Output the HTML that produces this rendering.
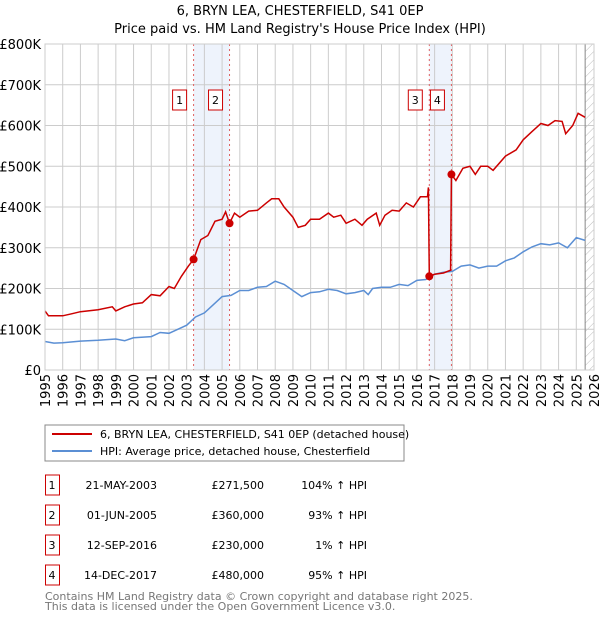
<!DOCTYPE html>
<html><head><meta charset="utf-8"><style>
body{margin:0;background:#fff;font-family:"DejaVu Sans","Liberation Sans",sans-serif;}
svg text{font-family:"DejaVu Sans","Liberation Sans",sans-serif;}
</style></head><body>
<svg id="c" width="600" height="620" viewBox="0 0 600 620" xmlns="http://www.w3.org/2000/svg">
<text x="300" y="15" text-anchor="middle" font-size="13">6, BRYN LEA, CHESTERFIELD, S41 0EP</text>
<text x="300" y="33" text-anchor="middle" font-size="13">Price paid vs. HM Land Registry's House Price Index (HPI)</text>
<g id="plot"></g>
<g>
<rect x="45" y="425" width="359" height="36" fill="#fff" stroke="#888"/>
<line x1="52" y1="434" x2="92" y2="434" stroke="#cc0000" stroke-width="2"/>
<text x="100" y="438" font-size="11">6, BRYN LEA, CHESTERFIELD, S41 0EP (detached house)</text>
<line x1="52" y1="451" x2="92" y2="451" stroke="#5b8fd4" stroke-width="2"/>
<text x="100" y="455" font-size="11">HPI: Average price, detached house, Chesterfield</text>
</g>
<g id="table" font-size="11"></g>
<text x="45" y="600" font-size="11" fill="#777">Contains HM Land Registry data © Crown copyright and database right 2025.</text>
<text x="45" y="610" font-size="11" fill="#777">This data is licensed under the Open Government Licence v3.0.</text>
</svg>
<script>
const yTicks=[0,100,200,300,400,500,600,700,800];
const yTickLabels=["£0","£100K","£200K","£300K","£400K","£500K","£600K","£700K","£800K"];
const xYears=[1995,1996,1997,1998,1999,2000,2001,2002,2003,2004,2005,2006,2007,2008,2009,2010,2011,2012,2013,2014,2015,2016,2017,2018,2019,2020,2021,2022,2023,2024,2025,2026];
const hpiT=[1995,1995.5,1996,1997,1998,1999,1999.5,2000,2001,2001.5,2002,2002.5,2003,2003.5,2004,2004.5,2005,2005.5,2006,2006.5,2007,2007.5,2008,2008.5,2009,2009.5,2010,2010.5,2011,2011.5,2012,2012.5,2013,2013.25,2013.5,2014,2014.5,2015,2015.5,2016,2016.5,2016.7,2017,2017.5,2018,2018.5,2019,2019.5,2020,2020.5,2021,2021.5,2022,2022.5,2023,2023.5,2024,2024.5,2025,2025.5];
const hpiV=[70,66,67,71,73,76,72,79,82,92,90,100,110,130,140,160,180,183,195,195,203,205,218,210,195,180,190,192,198,195,187,190,195,185,200,203,203,210,207,220,222,227,235,240,242,255,258,250,255,255,268,275,290,302,310,307,312,300,325,318];
const propT=[1995,1995.2,1996,1996.5,1997,1998,1998.8,1999,1999.5,2000,2000.5,2001,2001.5,2002,2002.3,2002.7,2003.1,2003.39,2003.8,2004.2,2004.6,2005,2005.2,2005.42,2005.7,2006,2006.5,2007,2007.5,2007.8,2008.2,2008.5,2009,2009.3,2009.7,2010,2010.5,2011,2011.3,2011.7,2012,2012.5,2012.9,2013.2,2013.7,2013.9,2014.2,2014.6,2015,2015.4,2015.8,2016.2,2016.6,2016.65,2016.7,2017,2017.5,2017.9,2017.95,2018.2,2018.6,2019,2019.3,2019.6,2020,2020.3,2021,2021.6,2022,2022.5,2023,2023.4,2023.8,2024.2,2024.4,2024.8,2025.1,2025.5];
const propV=[145,133,133,138,143,148,155,145,155,162,165,185,182,205,200,230,255,271.5,320,330,365,370,388,360,385,375,390,392,410,420,420,400,375,350,355,370,370,385,375,380,360,370,355,370,385,355,380,392,390,410,400,425,425,448,230,235,238,245,480,465,495,500,480,500,500,490,525,540,565,585,605,600,612,610,580,600,630,620];
const saleLabels=["1","2","3","4"];
const saleT=[2003.39,2005.42,2016.70,2017.95];
const saleV=[271.5,360,230,480];
const saleDates=["21-MAY-2003","01-JUN-2005","12-SEP-2016","14-DEC-2017"];
const salePrices=["£271,500","£360,000","£230,000","£480,000"];
const saleHpi=["104% ↑ HPI","93% ↑ HPI","1% ↑ HPI","95% ↑ HPI"];
const X0=45,X1=594,Y0=370,Y1=44;
const xs=t=>X0+(t-1995)/(2026-1995)*(X1-X0);
const ys=v=>Y0-v/800*(Y0-Y1);
const NS="http://www.w3.org/2000/svg";
const plot=document.getElementById('plot');
function mk(tag,attrs,parent){const e=document.createElementNS(NS,tag);for(const k in attrs)e.setAttribute(k,attrs[k]);(parent||plot).appendChild(e);return e;}
// shading
for(const [a,b] of [[0,1],[2,3]]){
 const r=mk('rect',{x:xs(saleT[a]),y:Y1,width:xs(saleT[b])-xs(saleT[a]),height:Y0-Y1,fill:'#eef3fc'});
 
 
}
// hatched future
const df=mk('defs',{});
const pat=mk('pattern',{id:'h',width:6,height:6,patternUnits:'userSpaceOnUse',patternTransform:'rotate(45)'},df);
mk('line',{x1:0,y1:0,x2:0,y2:6,stroke:'#bbb','stroke-width':1},pat);
const hr=mk('rect',{x:xs(2025.5),y:Y1,width:X1-xs(2025.5),height:Y0-Y1,fill:'url(#h)'});


// grid
yTicks.forEach((v,i)=>{
 mk('line',{x1:X0,x2:X1,y1:ys(v),y2:ys(v),stroke:'#ccc'});
 const t=mk('text',{x:X0-4,y:ys(v)+5,'text-anchor':'end','font-size':13});
 t.textContent=yTickLabels[i];
 
 
});
xYears.forEach(y=>{
 mk('line',{x1:xs(y),x2:xs(y),y1:Y1,y2:Y0,stroke:'#ccc'});
 const t=mk('text',{x:0,y:0,'text-anchor':'end','font-size':13,transform:`translate(${xs(y)+5},${Y0+4}) rotate(-90)`});
 t.textContent=y;
 
 
});
mk('line',{x1:xs(2025.5),x2:xs(2025.5),y1:Y1,y2:Y0,stroke:'#888'});
// sale lines
saleT.forEach((t,i)=>{
 const l=mk('line',{x1:xs(t),x2:xs(t),y1:Y1,y2:Y0,stroke:'#e06060','stroke-dasharray':'2,3'});
 
 
});
const path=(T,V)=>T.map((t,i)=>(i?'L':'M')+xs(t).toFixed(1)+','+ys(V[i]).toFixed(1)).join('');
const hp=mk('path',{d:path(hpiT,hpiV),fill:'none',stroke:'#5b8fd4','stroke-width':1.5});


const pp=mk('path',{d:path(propT,propV),fill:'none',stroke:'#cc0000','stroke-width':1.5});


saleT.forEach((t,i)=>{
 const c=mk('circle',{cx:xs(t),cy:ys(saleV[i]),r:4,fill:'#cc0000'});
 
 
 const g=mk('rect',{x:xs(t)-21,y:90,width:14,height:20,fill:'#fff',stroke:'#cc0000'});
 
 
 const tx=mk('text',{x:xs(t)-14,y:104,'text-anchor':'middle','font-size':11});
 tx.textContent=saleLabels[i];
 
 
});
mk('rect',{x:X0,y:Y1,width:X1-X0,height:Y0-Y1,fill:'none',stroke:'#ccc'});
// table
const tb=document.getElementById('table');
saleLabels.forEach((s,i)=>{
 const y=483+i*30;
 const b=mk('rect',{x:45.5,y:y-8,width:14,height:20,fill:'#fff',stroke:'#cc0000'},tb);
 
 
 const cells=[[52,'middle',s],[157,'end',saleDates[i]],[264,'end',salePrices[i]],[367,'end',saleHpi[i]]];
 cells.forEach(([x,a,txt],j)=>{
  const t=mk('text',{x:x,y:y+6,'text-anchor':a},tb);
  t.textContent=txt;
  
  
 });
});
</script>
</body></html>
